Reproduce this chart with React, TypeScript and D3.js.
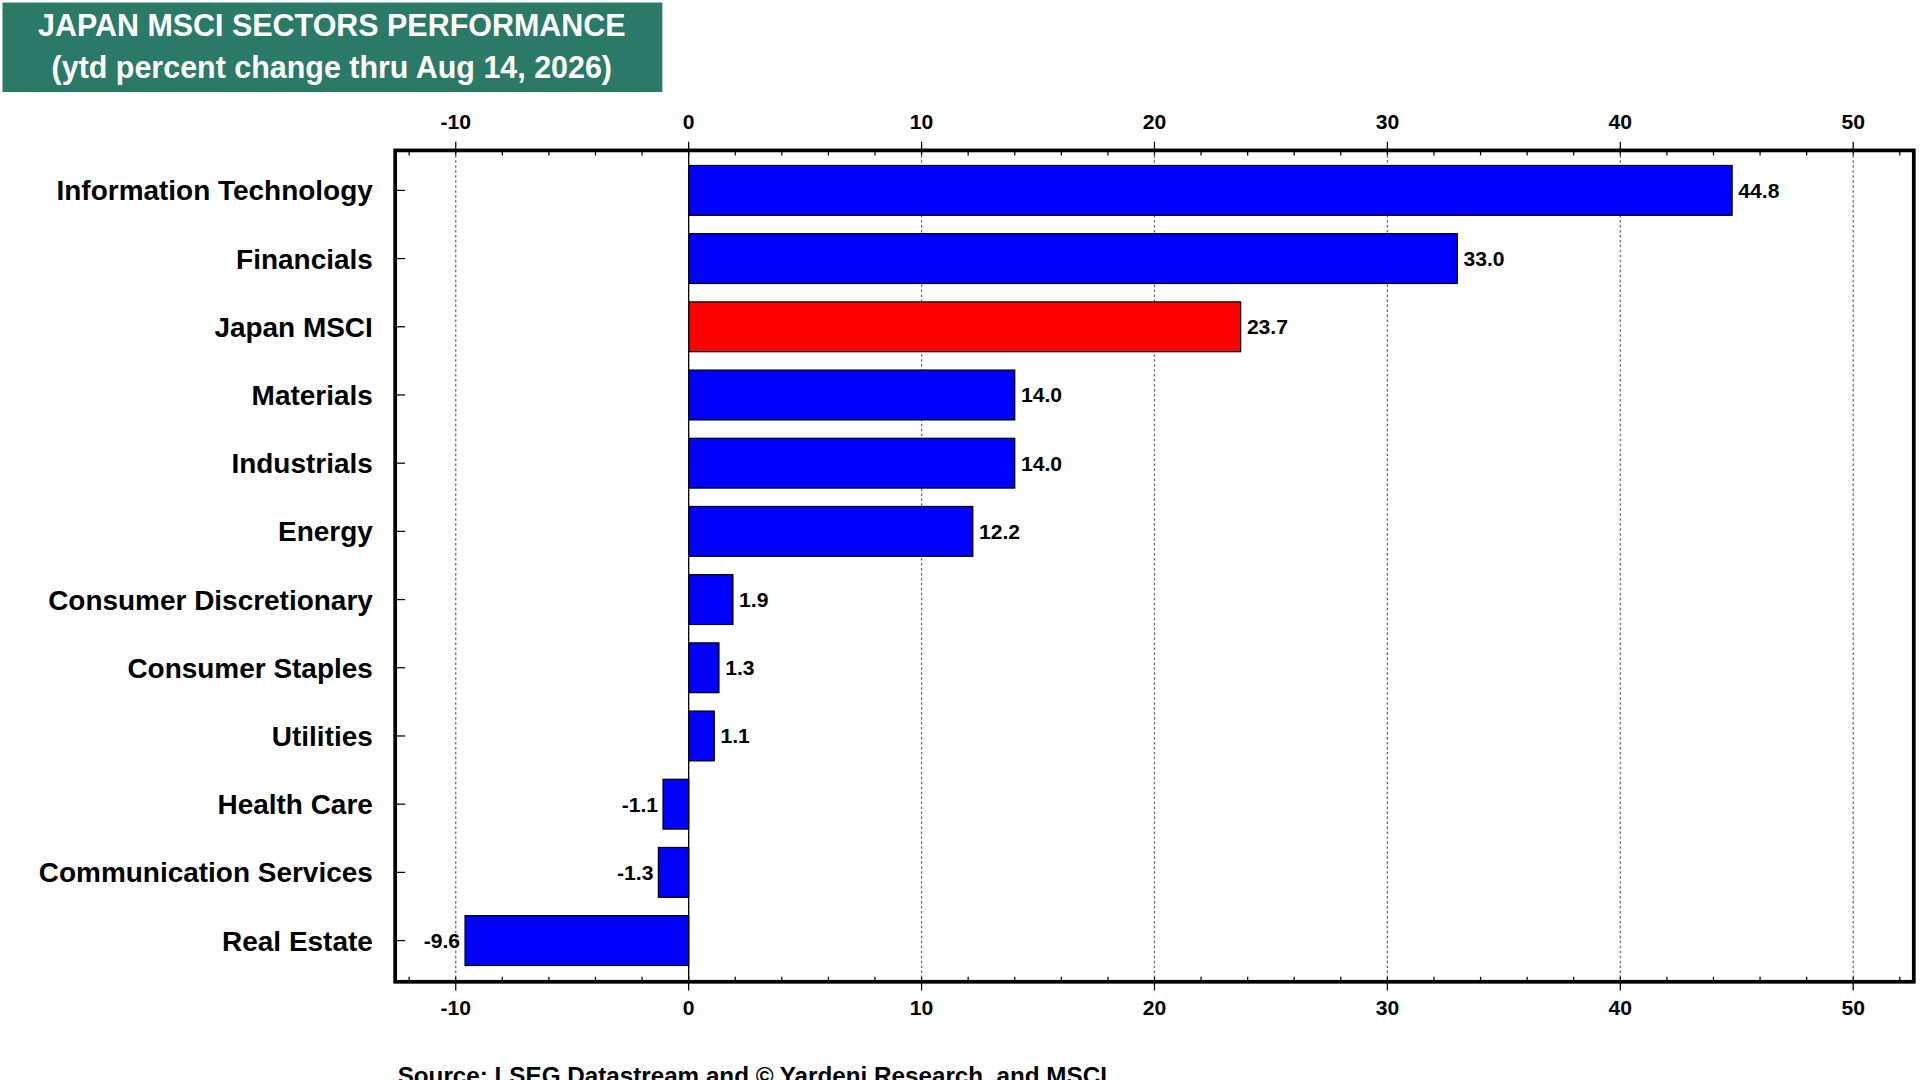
import * as d3 from "d3";

const categories = ["Information Technology","Financials","Japan MSCI","Materials","Industrials","Energy","Consumer Discretionary","Consumer Staples","Utilities","Health Care","Communication Services","Real Estate"];
const values = [44.8, 33.0, 23.7, 14.0, 14.0, 12.2, 1.9, 1.3, 1.1, -1.1, -1.3, -9.6];
const xTicks = [-10, 0, 10, 20, 30, 40, 50];
const minorTicks = d3.range(-12, 53, 2);

const W = 1545, H = 869;
const box = { left: 318, right: 1540, top: 121, bottom: 790 };

export default function App() {
  const x = d3.scaleLinear().domain([-12.6, 52.6]).range([box.left, box.right]);
  const y = d3.scaleBand<string>().domain(categories).range([126, 784]).paddingInner(0.27).paddingOuter(0.13);
  const font = "'Liberation Sans', Arial, sans-serif";
  return (
    <svg width={1920} height={1080} viewBox={`0 0 ${W} ${H}`} style={{ position: "absolute", left: 0, top: 0, background: "#fff" }} fontFamily={font} fontWeight="bold">
      <rect x={2} y={2} width={531} height={72} fill="#2b7a68" />
      <text x={267} y={29} fill="#fff" fontSize={24.5} textAnchor="middle">JAPAN MSCI SECTORS PERFORMANCE</text>
      <text x={267} y={63} fill="#fff" fontSize={24.5} textAnchor="middle">(ytd percent change thru Aug 14, 2026)</text>
      {xTicks.map(t => (
        <g key={t}>
          <line x1={x(t)} x2={x(t)} y1={box.top} y2={box.bottom} stroke="#666" strokeDasharray="2,2" />
          <text x={x(t)} y={104} fontSize={17} textAnchor="middle">{t}</text>
          <text x={x(t)} y={817} fontSize={17} textAnchor="middle">{t}</text>
          <line x1={x(t)} x2={x(t)} y1={box.top} y2={box.top - 7} stroke="#000" />
          <line x1={x(t)} x2={x(t)} y1={box.bottom} y2={box.bottom + 7} stroke="#000" />
        </g>
      ))}
      {minorTicks.map(t => (
        <g key={"m" + t}>
          <line x1={x(t)} x2={x(t)} y1={box.top} y2={box.top + 4} stroke="#000" />
          <line x1={x(t)} x2={x(t)} y1={box.bottom} y2={box.bottom - 4} stroke="#000" />
        </g>
      ))}
      {categories.map((c, i) => {
        const v = values[i];
        const y0 = y(c)!;
        const cy = y0 + y.bandwidth() / 2;
        return (
          <g key={c}>
            <rect x={x(Math.min(0, v))} y={y0} width={Math.abs(x(v) - x(0))} height={y.bandwidth()}
              fill={c === "Japan MSCI" ? "#ff0000" : "#0000ff"} stroke="#000" strokeWidth={1} />
            <text x={x(v) + (v >= 0 ? 5 : -4)} y={cy + 6} fontSize={17} textAnchor={v >= 0 ? "start" : "end"}>{v.toFixed(1)}</text>
            <text x={300} y={cy + 8} fontSize={22.5} textAnchor="end">{c}</text>
            <line x1={box.left} x2={box.left + 8} y1={cy} y2={cy} stroke="#000" />
          </g>
        );
      })}
      <line x1={x(0)} x2={x(0)} y1={box.top} y2={box.bottom} stroke="#000" />
      <rect x={box.left} y={box.top} width={box.right - box.left} height={box.bottom - box.top} fill="none" stroke="#000" strokeWidth={3} />
      <text x={320} y={872} fontSize={19.5}>Source: LSEG Datastream and © Yardeni Research, and MSCI.</text>
    </svg>
  );
}
